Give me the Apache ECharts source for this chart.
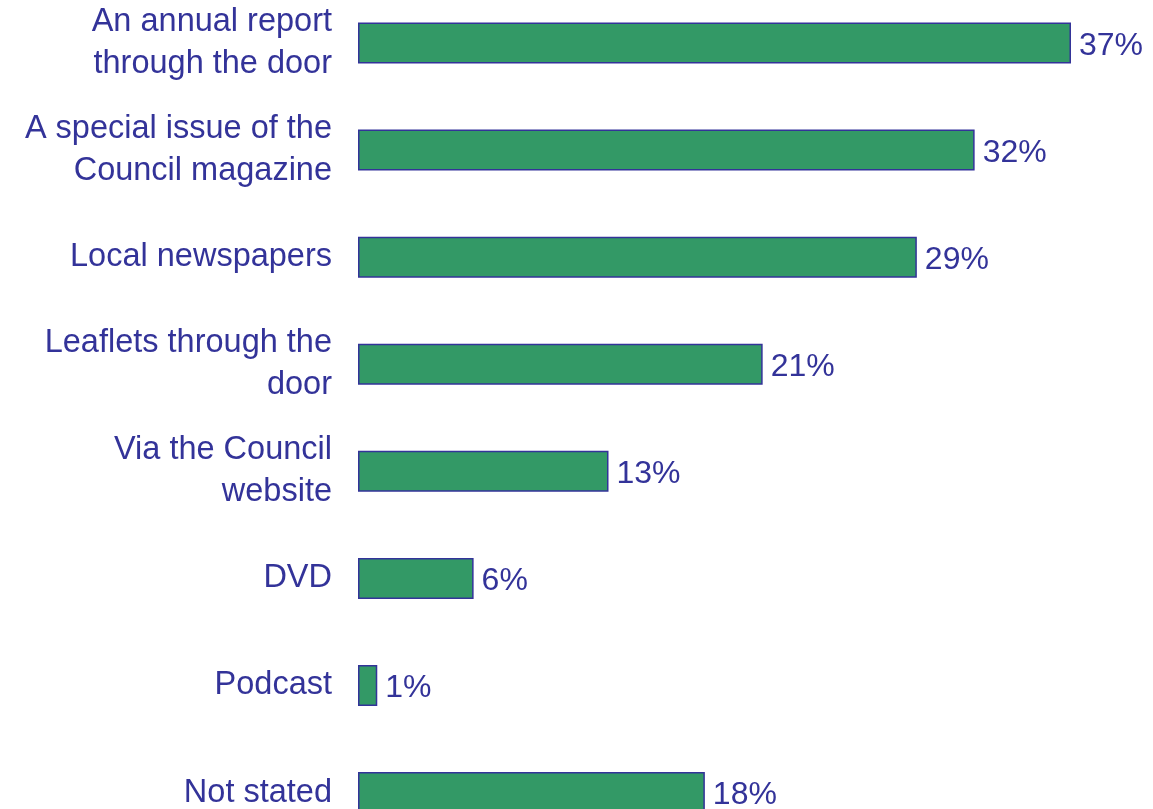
<!DOCTYPE html>
<html>
<head>
<meta charset="utf-8">
<script src="https://cdn.jsdelivr.net/npm/echarts@6/dist/echarts.min.js"></script>
<style>
html,body{margin:0;padding:0;background:#fff;}
#chart{width:1153px;height:809px;}
</style>
</head>
<body>
<div id="chart"></div>
<script>
const categories = [
  "An annual report\nthrough the door",
  "A special issue of the\nCouncil magazine",
  "Local newspapers",
  "Leaflets through the\ndoor",
  "Via the Council\nwebsite",
  "DVD",
  "Podcast",
  "Not stated"
];
const values = [37, 32, 29, 21, 13, 6, 1, 18];

const FONT = 'Liberation Sans, Arial, sans-serif';
const chart = echarts.init(document.getElementById('chart'), null, {renderer: 'canvas'});
chart.setOption({
  animation: false,
  backgroundColor: '#ffffff',
  textStyle: {fontFamily: FONT},
  grid: {left: 358, top: 43, width: 770.8, height: 749.6, containLabel: false, outerBoundsMode: 'none'},
  xAxis: {
    type: 'value', min: 0, max: 40, show: false
  },
  yAxis: {
    type: 'category', data: categories, inverse: true, boundaryGap: false,
    axisLine: {show: false}, axisTick: {show: false}, splitLine: {show: false},
    axisLabel: {
      fontSize: 32.5, color: '#333399', lineHeight: 42, margin: 26, align: 'right',
      fontFamily: FONT, interval: 0, padding: [8, 0, 0, 0]
    }
  },
  series: [{
    type: 'bar', data: values, barWidth: 41, clip: false,
    itemStyle: {color: '#339966', borderColor: '#333399', borderWidth: 1.5},
    label: {
      show: true, position: 'right', distance: 8, formatter: '{c}%', offset: [0, 3],
      fontSize: 32, color: '#333399', fontFamily: FONT
    }
  }]
});
</script>
</body>
</html>
